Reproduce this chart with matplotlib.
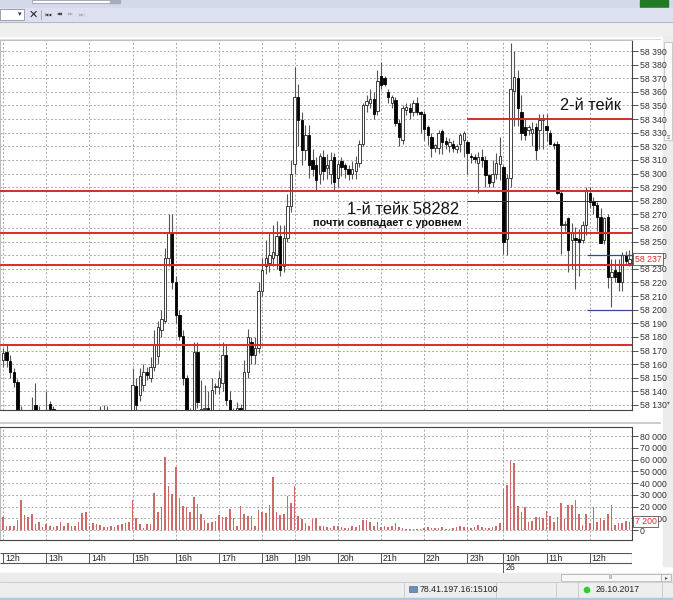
import numpy as np
import matplotlib
matplotlib.use('Agg')
import matplotlib.pyplot as plt
from matplotlib.patches import Rectangle, Circle

plt.rcParams['font.family'] = ['Liberation Sans', 'DejaVu Sans']

W, H = 673, 600

# hour grid: bar index where each hour starts (5-minute bars)
hour_pos = [0, 12, 24, 36, 48, 60, 72, 81, 93, 105, 117, 129, 139, 151, 163]
hour_labels = ['12h', '13h', '14h', '15h', '16h', '17h', '18h', '19h', '20h',
               '21h', '22h', '23h', '10h', '11h', '12h']

opens = [
    58163, 58169, 58162, 58154, 58147, 58118, 58122, 58112, 58105, 58130,
    58122, 58115, 58110, 58131, 58127, 58116, 58106, 58100, 58104, 58108,
    58104, 58106, 58112, 58110, 58114, 58112, 58108, 58112, 58118, 58120,
    58114, 58110, 58108, 58112, 58110, 58112, 58115, 58144, 58137, 58145,
    58154, 58150, 58158, 58166, 58185, 58192, 58238, 58257, 58220, 58196,
    58181, 58150, 58122, 58120, 58169, 58125, 58127, 58128, 58122, 58143,
    58143, 58146, 58167, 58134, 58122, 58120, 58128, 58122, 58154, 58176,
    58167, 58172, 58214, 58232, 58234, 58238, 58240, 58254, 58232, 58253,
    58276, 58307, 58356, 58339, 58317, 58328, 58310, 58306, 58300, 58312,
    58304, 58300, 58312, 58297, 58309, 58306, 58303, 58300, 58302, 58308,
    58322, 58350, 58352, 58355, 58346, 58372, 58370, 58360, 58352, 58354,
    58337, 58325, 58347, 58348, 58345, 58352, 58345, 58344, 58334, 58327,
    58319, 58319, 58331, 58324, 58320, 58322, 58318, 58322, 58325, 58323,
    58313, 58312, 58308, 58312, 58310, 58299, 58294, 58300, 58307, 58305,
    58252, 58297, 58361, 58370, 58345, 58334, 58332, 58330, 58334, 58332,
    58339, 58335, 58330, 58322, 58322, 58286, 58262, 58267, 58251, 58253,
    58252, 58251, 58262, 58286, 58280, 58277, 58268, 58251, 58268, 58224,
    58229, 58228, 58220, 58240, 58234]

highs = [
    58172, 58174, 58167, 58157, 58149, 58129, 58126, 58120, 58136, 58146,
    58129, 58122, 58140, 58133, 58129, 58122, 58115, 58110, 58112, 58116,
    58112, 58118, 58124, 58122, 58120, 58118, 58117, 58129, 58130, 58129,
    58122, 58118, 58116, 58120, 58118, 58124, 58157, 58150, 58157, 58160,
    58158, 58165, 58185, 58192, 58200, 58245, 58270, 58270, 58225, 58200,
    58185, 58152, 58128, 58176, 58176, 58148, 58145, 58140, 58150, 58146,
    58155, 58176, 58174, 58140, 58128, 58132, 58131, 58163, 58186, 58180,
    58180, 58220, 58238, 58251, 58256, 58262, 58265, 58262, 58262, 58285,
    58310, 58378, 58366, 58345, 58336, 58336, 58318, 58312, 58315, 58317,
    58314, 58316, 58315, 58310, 58312, 58308, 58306, 58309, 58313, 58325,
    58352, 58358, 58362, 58360, 58376, 58382, 58372, 58362, 58358, 58356,
    58340, 58350, 58352, 58352, 58354, 58356, 58346, 58346, 58336, 58330,
    58322, 58332, 58333, 58327, 58326, 58325, 58322, 58330, 58331, 58325,
    58315, 58314, 58316, 58318, 58313, 58300, 58310, 58315, 58327, 58306,
    58300, 58396, 58390, 58376, 58358, 58340, 58336, 58338, 58337, 58344,
    58344, 58344, 58332, 58323, 58324, 58287, 58265, 58268, 58264, 58261,
    58259, 58265, 58290, 58290, 58283, 58279, 58275, 58268, 58270, 58237,
    58237, 58237, 58242, 58243, 58244]

lows = [
    58158, 58158, 58150, 58143, 58110, 58110, 58108, 58100, 58100, 58112,
    58110, 58104, 58106, 58115, 58112, 58100, 58095, 58092, 58096, 58100,
    58098, 58100, 58105, 58100, 58106, 58104, 58102, 58108, 58112, 58110,
    58106, 58104, 58102, 58106, 58104, 58100, 58110, 58122, 58133, 58140,
    58148, 58147, 58155, 58160, 58180, 58190, 58232, 58215, 58190, 58178,
    58145, 58110, 58110, 58115, 58128, 58115, 58118, 58115, 58120, 58138,
    58138, 58140, 58130, 58110, 58112, 58115, 58115, 58118, 58150, 58160,
    58160, 58168, 58210, 58226, 58228, 58232, 58230, 58225, 58228, 58250,
    58272, 58300, 58320, 58306, 58310, 58297, 58298, 58287, 58292, 58295,
    58296, 58292, 58287, 58290, 58298, 58297, 58295, 58296, 58296, 58305,
    58320, 58345, 58348, 58340, 58343, 58362, 58364, 58352, 58348, 58335,
    58320, 58322, 58343, 58340, 58342, 58343, 58330, 58325, 58321, 58312,
    58316, 58314, 58314, 58318, 58316, 58316, 58315, 58316, 58312, 58300,
    58308, 58308, 58286, 58305, 58290, 58290, 58290, 58296, 58295, 58241,
    58240, 58290, 58335, 58335, 58325, 58325, 58328, 58320, 58310, 58318,
    58318, 58324, 58322, 58318, 58285, 58241, 58258, 58228, 58230, 58215,
    58225, 58249, 58255, 58275, 58270, 58258, 58249, 58248, 58216, 58202,
    58220, 58214, 58214, 58233, 58232]

closes = [
    58168, 58163, 58154, 58147, 58118, 58122, 58112, 58105, 58118, 58122,
    58115, 58110, 58118, 58127, 58116, 58106, 58100, 58104, 58108, 58104,
    58106, 58112, 58110, 58114, 58112, 58108, 58112, 58118, 58120, 58114,
    58110, 58108, 58112, 58110, 58112, 58116, 58145, 58130, 58151, 58154,
    58152, 58158, 58175, 58187, 58193, 58238, 58256, 58220, 58196, 58181,
    58150, 58120, 58125, 58169, 58132, 58127, 58128, 58124, 58141, 58144,
    58150, 58167, 58134, 58120, 58124, 58128, 58122, 58154, 58180, 58167,
    58172, 58214, 58229, 58238, 58240, 58242, 58254, 58229, 58253, 58276,
    58300, 58356, 58339, 58317, 58328, 58306, 58303, 58295, 58313, 58302,
    58306, 58310, 58294, 58307, 58305, 58303, 58300, 58303, 58308, 58322,
    58350, 58353, 58355, 58344, 58368, 58365, 58366, 58356, 58356, 58337,
    58327, 58348, 58349, 58345, 58352, 58345, 58344, 58333, 58328, 58319,
    58321, 58330, 58323, 58322, 58323, 58319, 58320, 58328, 58330, 58315,
    58312, 58311, 58312, 58310, 58299, 58293, 58300, 58308, 58313, 58250,
    58297, 58362, 58371, 58348, 58330, 58328, 58334, 58333, 58317, 58339,
    58341, 58332, 58322, 58321, 58286, 58262, 58263, 58244, 58256, 58251,
    58250, 58262, 58288, 58279, 58277, 58268, 58249, 58267, 58224, 58228,
    58224, 58220, 58240, 58236, 58237]

volumes = [
    11300, 3400, 3400, 3400, 8500, 25500, 12800, 11300, 13600, 5100,
    7200, 2800, 5100, 3400, 2300, 3400, 7200, 3400, 6200, 3400,
    3400, 7200, 14500, 15000, 3400, 6200, 5100, 4200, 2300, 2300,
    3400, 2300, 4200, 5100, 6000, 7200, 25500, 9900, 5100, 1400,
    5100, 5100, 31400, 15000, 19500, 62400, 37400, 30600, 53900, 27000,
    20400, 19800, 15000, 27800, 22100, 13600, 8500, 6200, 7200, 7900,
    12800, 10800, 10800, 17600, 9900, 3400, 20400, 13600, 11900, 11900,
    3400, 17000, 15000, 14500, 21200, 45400, 15000, 12800, 13600, 28900,
    23200, 37400, 11900, 9100, 6200, 3400, 9100, 9900, 3400, 3400,
    2300, 1400, 3400, 3400, 2300, 1400, 1400, 3400, 2300, 4300,
    8500, 8500, 7100, 3400, 7100, 2300, 3400, 2300, 3400, 5700,
    2800, 1400, 600, 600, 600, 600, 600, 1400, 2800, 1400,
    1400, 1400, 2300, 600, 600, 1400, 2300, 3400, 2800, 2300,
    1400, 2800, 4300, 2300, 1400, 1400, 2300, 3400, 6200, 34600,
    38300, 59000, 56700, 20400, 15600, 19900, 7100, 7900, 10800, 10800,
    9900, 16500, 11900, 7100, 10800, 22700, 9100, 21300, 21300, 25500,
    13600, 4300, 13600, 5700, 19300, 7100, 9900, 8500, 13600, 21300,
    4300, 5700, 6200, 7900, 7200]

red_levels = [58287, 58256, 58233, 58174]
take2_level = 58340
take1_level = 58280
blue_levels = [58240, 58200]
last_price = 58237
last_volume = 7200


def rect(x0, y0, x1, y1):
    return [x0 / W, 1 - y1 / H, (x1 - x0) / W, (y1 - y0) / H]


def spaced(v, pos=None):
    return f'{int(round(v)):,}'.replace(',', ' ')


fig = plt.figure(figsize=(W / 100, H / 100), dpi=100)
fig.patch.set_facecolor('white')

# window chrome drawn in pixel coordinates
bg = fig.add_axes([0, 0, 1, 1])
bg.set_xlim(0, W)
bg.set_ylim(H, 0)
bg.axis('off')
bg.add_patch(Rectangle((0, 0), W, 8, color='#d4d9ea'))
bg.add_patch(Rectangle((32, 0), 78, 2.5, facecolor='white', edgecolor='#9aa0b0', lw=0.6))
bg.add_patch(Rectangle((110, 0), 10, 2.5, color='#a8acb8'))
bg.add_patch(Rectangle((640, 0), 28, 6.5, color='#1f7a22'))
bg.add_patch(Rectangle((0, 8), W, 13, color='#dde1ef'))
bg.add_patch(Rectangle((0, 9), 24, 10.5, facecolor='white', edgecolor='#8d93a6', lw=0.6))
bg.text(20, 14.5, '▾', fontsize=5, ha='center', va='center', color='#333')
bg.text(33, 14.5, '✕', fontsize=8, ha='center', va='center', color='#222',
        family=['DejaVu Sans'], weight='bold')
bg.plot([41, 41], [10, 19], color='#a0a4b4', lw=0.6)
for xx, s, col in [(48, '|◀◀', '#333'), (60, '◀◀', '#333'), (71, '▶▶', '#b0b0b0'), (83, '▶▶|', '#b0b0b0')]:
    bg.text(xx, 14.5, s, fontsize=2.8, ha='center', va='center', color=col, family=['DejaVu Sans'])
bg.plot([0, W], [21.5, 21.5], color='#b4b9c9', lw=0.8)
bg.add_patch(Rectangle((0, 22), W, 14, color='#efefef'))
bg.plot([0, 660], [38.5, 38.5], color='#dcdcdc', lw=0.8)
# right scrollbar
bg.add_patch(Rectangle((663, 36), 10, 530, color='#ececec'))
bg.add_patch(Rectangle((664, 42), 8, 98, facecolor='#fafafa', edgecolor='#b8b8b8', lw=0.5))
bg.text(668, 138, '≡', fontsize=4, ha='center', va='center', color='#666')
bg.text(668, 403, '▾', fontsize=4, ha='center', va='center', color='#666')
# separator between panels
bg.plot([0, 660], [422.5, 422.5], color='#c4c4c4', lw=1.2)
# bottom horizontal scrollbar and status bar
bg.add_patch(Rectangle((0, 573), W, 9, color='#ececec'))
bg.add_patch(Rectangle((561, 573.5), 100, 7.5, facecolor='#f7f7f7', edgecolor='#a8a8a8', lw=0.5))
bg.text(611, 577.5, 'III', fontsize=3.5, ha='center', va='center', color='#777')
bg.add_patch(Rectangle((661, 573.5), 10, 7.5, facecolor='#f2f2f2', edgecolor='#a8a8a8', lw=0.5))
bg.text(666, 577.5, '▸', fontsize=4, ha='center', va='center', color='#555')
bg.add_patch(Rectangle((0, 582), W, 16, color='#eeeeee'))
bg.plot([0, W], [582, 582], color='#c8c8c8', lw=0.6)
for xx in [404, 496, 556, 578, 662]:
    bg.plot([xx, xx], [583, 597], color='#c8c8c8', lw=0.6)
bg.add_patch(Rectangle((409, 585.5), 8, 6, facecolor='#6f8fb8', edgecolor='#3d5a80', lw=0.4))
bg.text(420, 590, '78.41.197.16:15100', fontsize=6.3, va='center', color='#222')
bg.add_patch(Circle((587, 590), 2.6, color='#2ecc2e'))
bg.text(596, 590, '26.10.2017', fontsize=6.3, va='center', color='#222')
bg.add_patch(Rectangle((0, 598), W, 2, color='#b0c6e4'))

xmin, xmax = -0.83, 174.72
grid_kw = dict(color='#a9a9a9', lw=0.7, ls=(0, (2, 2)), zorder=1)

# ---- price panel ----
ax = fig.add_axes(rect(0, 40, 632, 410))
ax.set_xlim(xmin, xmax)
ax.set_ylim(58126.3, 58398.1)
idx = np.arange(len(closes))
o = np.array(opens, float)
hi = np.array(highs, float)
lo = np.array(lows, float)
c = np.array(closes, float)
up = c >= o
body_lo = np.minimum(o, c)
body_h = np.maximum(np.abs(c - o), 0.8)

price_ticks = np.arange(58130, 58391, 10)
for p in price_ticks:
    ax.axhline(p, **grid_kw)
for hp in hour_pos:
    ax.axvline(hp, **grid_kw)

ax.vlines(idx, lo, hi, color='#555555', lw=0.8, zorder=3)
ax.bar(idx[up], body_h[up], bottom=body_lo[up], width=0.64, color='white',
       edgecolor='#222222', lw=0.6, zorder=4)
ax.bar(idx[~up], body_h[~up], bottom=body_lo[~up], width=0.64, color='black',
       edgecolor='black', lw=0.6, zorder=4)

for lv in red_levels:
    ax.axhline(lv, color='#d92b2b', lw=1.4, zorder=5)
ax.hlines(take2_level, 129, xmax, color='#d92b2b', lw=1.4, zorder=5)
ax.hlines(take1_level, 129, xmax, color='#333333', lw=0.7, zorder=5)
for lv in blue_levels:
    ax.hlines(lv, 162.3, xmax, color='#34489a', lw=0.9, zorder=5)

ax.yaxis.tick_right()
ax.set_yticks(price_ticks)
ax.yaxis.set_major_formatter(plt.FuncFormatter(spaced))
ax.tick_params(axis='y', labelsize=6.3, length=4, width=0.6, pad=1.5,
               colors='#333333')
ax.set_xticks([])
for side in ['left', 'top']:
    ax.spines[side].set_color('#bdbdbd')
    ax.spines[side].set_linewidth(0.7)
for side in ['right', 'bottom']:
    ax.spines[side].set_color('#444444')
    ax.spines[side].set_linewidth(0.8)

ax.text(1.004, last_price, spaced(last_price), transform=ax.get_yaxis_transform(),
        fontsize=6.3, color='#d92b2b', va='center', ha='left', zorder=10,
        bbox=dict(boxstyle='square,pad=0.15', facecolor='white', edgecolor='#555555', lw=0.6))

ax.text(560, 106, '2-й тейк', transform=bg.transData, fontsize=11.7,
        va='center', ha='left', color='#111111', zorder=8)
ax.text(347, 209, '1-й тейк 58282', transform=bg.transData, fontsize=11.9,
        va='center', ha='left', color='#111111', zorder=8)
ax.text(313, 222.5, 'почти совпадает с уровнем', transform=bg.transData,
        fontsize=7.8, va='center', ha='left', color='#111111', zorder=8,
        weight='bold')

# ---- volume panel ----
axv = fig.add_axes(rect(0, 427, 632, 540))
axv.set_xlim(xmin, xmax)
axv.set_ylim(-8510, 87660)
vol_ticks = np.arange(0, 80001, 10000)
for v in vol_ticks:
    axv.axhline(v, **grid_kw)
for hp in hour_pos:
    axv.axvline(hp, **grid_kw)
axv.bar(idx, volumes, width=0.42, color='#cf6a6a', lw=0, zorder=3)
axv.yaxis.tick_right()
axv.set_yticks(vol_ticks)
axv.yaxis.set_major_formatter(plt.FuncFormatter(spaced))
axv.tick_params(axis='y', labelsize=6.3, length=4, width=0.6, pad=1.5,
                colors='#333333')
axv.set_xticks([])
axv.spines['left'].set_color('#bdbdbd')
for side in ['right', 'bottom', 'top']:
    axv.spines[side].set_color('#444444')
    axv.spines[side].set_linewidth(0.8)
axv.text(1.004, last_volume, spaced(last_volume), transform=axv.get_yaxis_transform(),
         fontsize=6.3, color='#d92b2b', va='center', ha='left', zorder=10,
         bbox=dict(boxstyle='square,pad=0.15', facecolor='white', edgecolor='#555555', lw=0.6))

# ---- time axis ----
axt = fig.add_axes(rect(0, 553, 632, 573))
axt.set_xlim(xmin, xmax)
axt.set_ylim(20, 0)
axt.axis('off')
axt.hlines([0.3, 10], xmin, xmax, color='#555555', lw=0.8)
axt.vlines([xmax - 0.05], 0, 10, color='#555555', lw=0.8)
axt.vlines(hour_pos, 0, 10, color='#555555', lw=0.7)
for hp, lab in zip(hour_pos, hour_labels):
    axt.text(hp + 0.5, 5.3, lab, fontsize=6.3, va='center', ha='left', color='#222222')
axt.vlines([139], 10, 19.5, color='#555555', lw=0.7)
axt.text(139.5, 15, '26', fontsize=6.3, va='center', ha='left', color='#222222')

fig.savefig('out.png', dpi=100)
